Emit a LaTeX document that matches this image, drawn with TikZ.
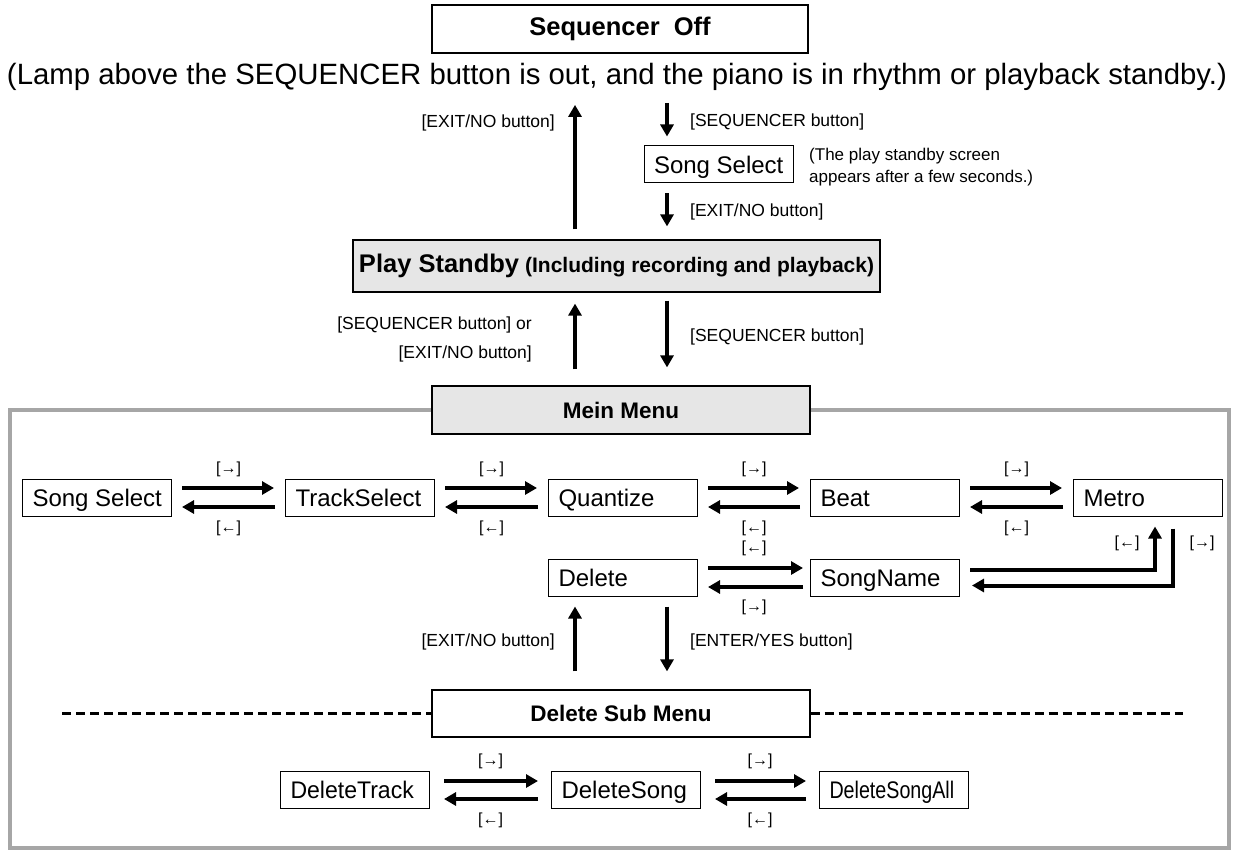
\documentclass[tikz,border=0pt]{standalone}
\usepackage{fontspec}
\setmainfont{Liberation Sans}
\usepackage{graphicx}
\usetikzlibrary{arrows.meta,calc}
\definecolor{boxgray}{HTML}{E6E6E6}
\definecolor{framegray}{HTML}{A6A6A6}
\newcommand\bxtxt[1]{\makebox[129pt][l]{#1}}
\begin{document}
\begin{tikzpicture}[x=1pt,y=-1pt,
 mbox/.style={draw, line width=1pt, inner xsep=10pt, inner ysep=0pt, minimum width=149pt, minimum height=37pt, text height=17.2pt, text depth=0pt, font=\fontsize{24}{28}\selectfont, anchor=west},
 tbox/.style={draw, line width=1.2pt, inner sep=0pt, font=\bfseries\fontsize{22}{26}\selectfont},
 lbl/.style={inner sep=0pt, font=\fontsize{17.5}{22}\selectfont},
 keylbl/.style={inner sep=0pt, font=\fontsize{16}{19}\selectfont},
 arr/.style={line width=4pt, -{Triangle[length=12pt,width=13pt]}},
 dashline/.style={line width=2.5pt, dash pattern=on 9pt off 5pt},
]
\useasboundingbox (0,0) rectangle (1233,850);
\coordinate (xL) at (575,0);
\coordinate (xR) at (667,0);

% top
\node[tbox, minimum width=376pt, minimum height=48pt, font=\bfseries\fontsize{25.5}{30}\selectfont] (seqoff) at (620,29) {Sequencer\ \ Off};
\node[inner sep=0pt] (sub) at (617,77) {\resizebox{1220pt}{!}{\fontsize{28}{32}\selectfont (Lamp above the SEQUENCER button is out, and the piano is in rhythm or playback standby.)}};

\node[mbox, anchor=center] (ss1) at (718.5,164.5) {\bxtxt{Song Select}};
\node[lbl, anchor=west, align=left, font=\fontsize{17}{22}\selectfont] (note) at (809,167) {(The play standby screen\\appears after a few seconds.)};

\node[draw, fill=boxgray, line width=1.2pt, minimum width=527pt, minimum height=52pt, inner sep=0pt] (ps) at (616.5,266)
 {{\bfseries\fontsize{25.5}{30}\selectfont Play Standby}\hspace{6pt}{\bfseries\fontsize{21}{25}\selectfont (Including recording and playback)}};

\draw[arr, shorten <=10pt, shorten >=14pt] (ps.north -| xL) -- (sub.south -| xL);
\draw[arr, shorten <=12pt, shorten >=9pt] (sub.south -| xR) -- (ss1.north -| xR);
\draw[arr, shorten <=10pt, shorten >=13pt] (ss1.south -| xR) -- (ps.north -| xR);
\node[lbl, anchor=east] (l1) at (555,123) {[EXIT/NO button]};
\node[lbl, anchor=west] (l2) at (690,122) {[SEQUENCER button]};
\node[lbl, anchor=west] (l3) at (690,212) {[EXIT/NO button]};

% frame
\draw[framegray, line width=4pt] (10,410) rectangle (1229,848);

\node[tbox, fill=boxgray, minimum width=378pt, minimum height=48pt, font=\bfseries\fontsize{22.5}{26}\selectfont] (mm) at (621,410) {Mein Menu};

\draw[arr, shorten <=16pt, shorten >=11pt] (mm.north -| xL) -- (ps.south -| xL);
\draw[arr, shorten <=8pt, shorten >=18pt] (ps.south -| xR) -- (mm.north -| xR);
\node[lbl, anchor=east, align=right, font=\fontsize{17.5}{29}\selectfont] (l4) at (532,339.5) {[SEQUENCER button] or\\\relax [EXIT/NO button]};
\node[lbl, anchor=west] (l5) at (690,337) {[SEQUENCER button]};

% row 1
\node[mbox] (r1a) at (22,497.5) {\bxtxt{Song Select}};
\node[mbox] (r1b) at (285,497.5) {\bxtxt{TrackSelect}};
\node[mbox] (r1c) at (548,497.5) {\bxtxt{Quantize}};
\node[mbox] (r1d) at (810,497.5) {\bxtxt{Beat}};
\node[mbox] (r1e) at (1073,497.5) {\bxtxt{Metro}};
\foreach \a/\b in {r1a/r1b, r1b/r1c, r1c/r1d, r1d/r1e}{
 \draw[arr, shorten <=10pt, shorten >=11pt] ([yshift=9.5pt]\a.east) -- ([yshift=9.5pt]\b.west);
 \draw[arr, shorten <=10pt, shorten >=10pt] ([yshift=-9.5pt]\b.west) -- ([yshift=-9.5pt]\a.east);
 \path (\a.east) -- (\b.west) node[midway, keylbl, yshift=28pt] {[→]} node[midway, keylbl, yshift=-30.5pt] {[←]};
}

% row 2
\node[mbox] (del) at (548,577.5) {\bxtxt{Delete}};
\node[mbox] (sn) at (810,577.5) {\bxtxt{SongName}};
\draw[arr, shorten <=10pt, shorten >=7pt] ([yshift=9.5pt]del.east) -- ([yshift=9.5pt]sn.west);
\draw[arr, shorten <=7pt, shorten >=10pt] ([yshift=-9.5pt]sn.west) -- ([yshift=-9.5pt]del.east);
\path (del.east) -- (sn.west) node[midway, keylbl, yshift=29.5pt] {[←]} node[midway, keylbl, yshift=-29.5pt] {[→]};

\coordinate (xm1) at (1155,0);
\coordinate (xm2) at (1173,0);
\draw[arr, shorten <=10pt, shorten >=10pt] ([yshift=8pt]sn.east) -| (r1e.south -| xm1);
\draw[arr, shorten <=12pt, shorten >=12pt] (r1e.south -| xm2) |- ([yshift=-8pt]sn.east);
\node[keylbl] (k1) at (1127,543) {[←]};
\node[keylbl] (k2) at (1202,543) {[→]};

% delete sub menu
\node[tbox, fill=white, minimum width=378pt, minimum height=47pt, font=\bfseries\fontsize{22.5}{27}\selectfont] (dsm) at (621,713.5) {Delete Sub Menu};
\coordinate (dl) at (62,713.5);
\coordinate (dr) at (1183,713.5);
\draw[dashline] (dl) -- (dsm.west);
\draw[dashline] (dsm.east) -- (dr);

\draw[arr, shorten <=18pt, shorten >=10pt] (dsm.north -| xL) -- (del.south -| xL);
\draw[arr, shorten <=10pt, shorten >=18pt] (del.south -| xR) -- (dsm.north -| xR);
\node[lbl, anchor=east] (l6) at (555,642) {[EXIT/NO button]};
\node[lbl, anchor=west] (l7) at (690,642) {[ENTER/YES button]};

% row 3
\node[mbox] (dt) at (280,790) {\bxtxt{\scalebox{0.96}[1]{DeleteTrack}}};
\node[mbox] (dsg) at (551,790) {\bxtxt{DeleteSong}};
\node[mbox] (dsa) at (819,790) {\bxtxt{\scalebox{0.82}[1]{DeleteSongAll}}};
\foreach \a/\b in {dt/dsg, dsg/dsa}{
 \draw[arr, shorten <=14pt, shorten >=13pt] ([yshift=9pt]\a.east) -- ([yshift=9pt]\b.west);
 \draw[arr, shorten <=13pt, shorten >=14pt] ([yshift=-9pt]\b.west) -- ([yshift=-9pt]\a.east);
 \path (\a.east) -- (\b.west) node[midway, keylbl, yshift=29pt] {[→]} node[midway, keylbl, yshift=-30pt] {[←]};
}
\end{tikzpicture}
\end{document}
